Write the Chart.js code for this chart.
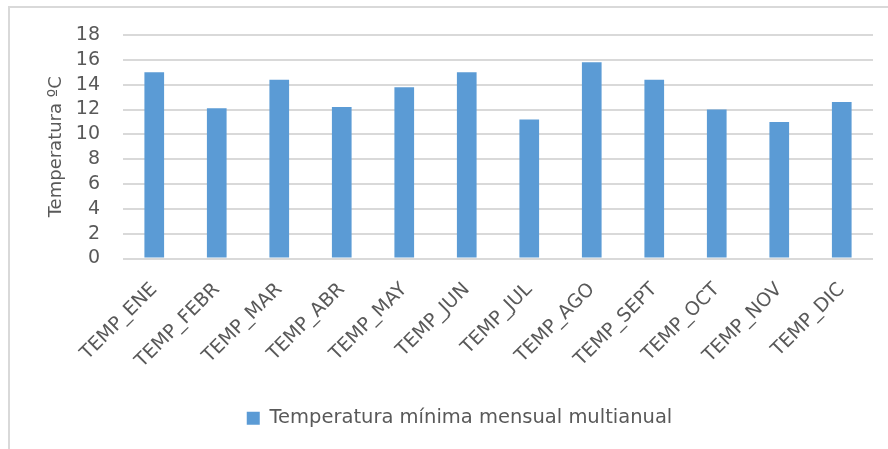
<!DOCTYPE html>
<html>
<head>
<meta charset="utf-8">
<script src="https://cdn.jsdelivr.net/npm/chart.js@4"></script>
<style>
  body { margin: 0; background: #fff; overflow: hidden; }
  #wrap { position: relative; width: 888px; height: 449px; }
  #frame { position: absolute; left: 8px; top: 6px; width: 900px; height: 500px; border: 2px solid #d9d9d9; }
  canvas { position: absolute; left: 0; top: 0; }
</style>
</head>
<body>
<div id="wrap">
  <div id="frame"></div>
  <canvas id="chart" width="888" height="449"></canvas>
</div>
<script>
const meses = ["TEMP_ENE", "TEMP_FEBR", "TEMP_MAR", "TEMP_ABR", "TEMP_MAY", "TEMP_JUN",
  "TEMP_JUL", "TEMP_AGO", "TEMP_SEPT", "TEMP_OCT", "TEMP_NOV", "TEMP_DIC"];
const tempMinima = [15.0, 12.1, 14.4, 12.2, 13.8, 15.0, 11.2, 15.8, 14.4, 12.0, 11.0, 12.6];
const serieNombre = "Temperatura mínima mensual multianual";
const ejeY = "Temperatura ºC";

const gris = "#595959";
const fuente = "'DejaVu Sans', sans-serif";

new Chart(document.getElementById("chart"), {
  type: "bar",
  data: {
    labels: meses,
    datasets: [{
      label: serieNombre,
      data: tempMinima,
      backgroundColor: "#5b9bd5",
      barPercentage: 0.315,
      categoryPercentage: 1,
    }],
  },
  options: {
    responsive: false,
    devicePixelRatio: 1,
    animation: false,
    layout: { padding: { top: 35, right: 15, bottom: 11, left: 46 } },
    scales: {
      x: {
        grid: { display: false },
        border: { display: false },
        ticks: {
          autoSkip: false,
          minRotation: 45,
          maxRotation: 45,
          padding: 12,
          color: gris,
          font: { family: fuente, size: 19 },
        },
        afterFit: (scale) => { scale.height = 140; },
      },
      y: {
        min: 0,
        max: 18,
        ticks: {
          stepSize: 2,
          autoSkip: false,
          padding: 23,
          color: gris,
          font: { family: fuente, size: 19 },
        },
        grid: { color: "#d9d9d9", lineWidth: 2, drawTicks: false },
        border: { display: false },
        title: {
          display: true,
          text: ejeY,
          color: gris,
          font: { family: fuente, size: 18 },
          padding: { top: 0, bottom: 0 },
        },
        afterFit: (scale) => { scale.width = 77; },
      },
    },
    plugins: {
      legend: {
        position: "bottom",
        labels: {
          boxWidth: 13,
          boxHeight: 13,
          color: gris,
          font: { family: fuente, size: 19.5 },
        },
      },
      tooltip: { enabled: false },
    },
  },
});
</script>
</body>
</html>
